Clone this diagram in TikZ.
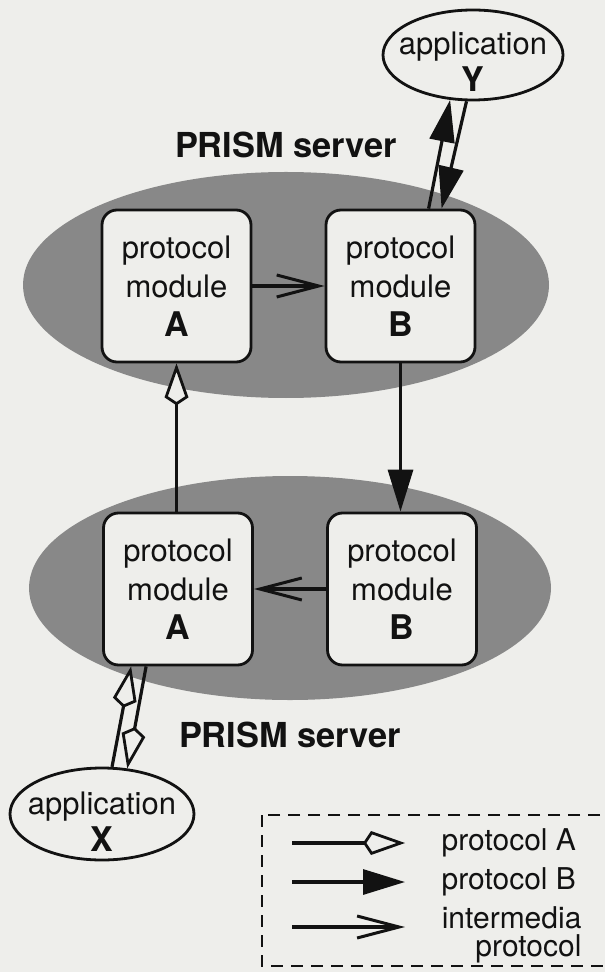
\documentclass[tikz,border=0pt]{standalone}
\usepackage{fontspec}
\setmainfont{TeX Gyre Heros}
\usetikzlibrary{arrows.meta,shapes.geometric}
\definecolor{paper}{RGB}{238,238,235}
\definecolor{stipple}{RGB}{136,136,136}
\definecolor{ink}{RGB}{18,18,18}

\begin{document}
\begin{tikzpicture}[x=0.5pt,y=-0.5pt,color=ink,line width=1.6pt,
  module/.style={draw,rounded corners=7.5pt,line width=1.4pt,fill=paper,
    minimum width=74.5pt,minimum height=76pt,inner sep=0pt,align=center,
    font=\fontsize{15.5}{19.5}\selectfont},
  app/.style={draw,ellipse,line width=1.4pt,inner sep=0pt},
  applabel/.style={align=center,inner sep=0pt,font=\fontsize{15.5}{18.5}\selectfont},
  title/.style={inner sep=0pt,font=\fontsize{17.2}{20}\selectfont\bfseries},
  legendtext/.style={inner sep=0pt,font=\fontsize{15}{18}\selectfont},
  pA/.style={-{Kite[length=21pt,width=12pt,inset=4pt,fill=paper,line width=1.4pt]}},
  pB/.style={-{Triangle[length=21pt,width=12.5pt]}},
  pI/.style={-{Straight Barb[length=21pt,width=11pt,line width=1.5pt]}}]

\useasboundingbox (0,0) rectangle (605,972);
\fill[paper] (0,0) rectangle (605,972);

% the two PRISM servers
\fill[stipple] (286,285) ellipse [x radius=131.5pt,y radius=56.5pt];
\fill[stipple] (290,588) ellipse [x radius=130.5pt,y radius=56pt];
\node[title] (s1) at (286,145) {PRISM server};
\node[title] (s2) at (290,735) {PRISM server};

% protocol modules
\node[module] (tA) at (176.5,286) {protocol\\module\\{\fontsize{17}{19.5}\selectfont\bfseries A}};
\node[module] (tB) at (400.5,286) {protocol\\module\\{\fontsize{17}{19.5}\selectfont\bfseries B}};
\node[module] (bA) at (178,589) {protocol\\module\\{\fontsize{17}{19.5}\selectfont\bfseries A}};
\node[module] (bB) at (402,589) {protocol\\module\\{\fontsize{17}{19.5}\selectfont\bfseries B}};

% applications
\node[app,minimum width=90pt,minimum height=45pt] (appY) at (473,55) {};
\node[applabel] at (473,62) {application\\{\fontsize{17}{18.5}\selectfont\bfseries Y}};
\node[app,minimum width=92pt,minimum height=46pt] (appX) at (102,814) {};
\node[applabel] at (102,822) {application\\{\fontsize{17}{18.5}\selectfont\bfseries X}};

% intermedia links
\draw[pI] (tA) -- (tB);
\draw[pI] (bB) -- (bA);
% protocol B link between the servers
\draw[pB] (tB.south) -- (tB.south |- bB.north);
% protocol A link between the servers
\draw[pA] (tA.south |- bA.north) -- (tA.south);

% application Y <-> module B
\draw[pB] ([xshift=52pt]tB.north west) -- (appY.243);
\draw[pB] (appY.262) -- ([xshift=58.5pt]tB.north west);
% application X <-> module A
\draw[pA] (appX.78) -- ([xshift=14.5pt]bA.south west);
\draw[pA] ([xshift=22pt]bA.south west) -- (appX.61);

% legend
\begin{scope}
  \clip (0,0) rectangle (605,972);
  \draw[line width=1.3pt,dash pattern=on 6pt off 4pt] (262,815) rectangle (660,966);
\end{scope}
\coordinate (la0) at (292,843); \coordinate (la1) at (405,843);
\coordinate (lb0) at (292,882); \coordinate (lb1) at (405,882);
\coordinate (lc0) at (292,927); \coordinate (lc1) at (405,927);
\draw[pA] (la0) -- (la1);
\draw[pB] (lb0) -- (lb1);
\draw[pI] (lc0) -- (lc1);
\node[legendtext,anchor=west] (ta) at (440,843) {protocol A};
\node[legendtext,anchor=west] (tb) at (440,882) {protocol B};
\node[legendtext,anchor=east,align=right,font=\fontsize{15}{14}\selectfont] (tc) at (583,935) {intermedia\\protocol};
\end{tikzpicture}
\end{document}
